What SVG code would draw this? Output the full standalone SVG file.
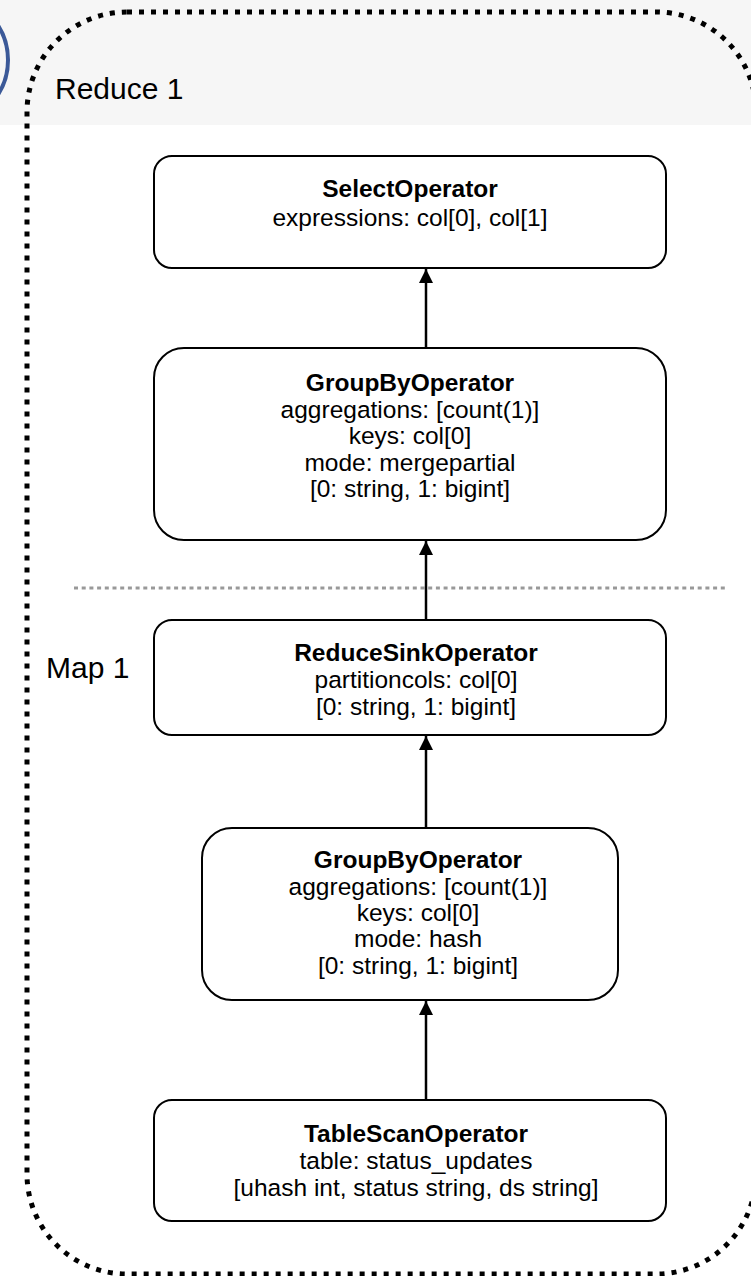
<svg xmlns="http://www.w3.org/2000/svg" width="751" height="1276" viewBox="0 0 751 1276">
<defs>
<style>
.node{fill:#fff;stroke:#000;stroke-width:2}
.t{font-family:"Liberation Sans",Arial,sans-serif;font-size:24.5px;text-anchor:middle;fill:#000}
.b{font-weight:bold}
.lbl{font-family:"Liberation Sans",Arial,sans-serif;font-size:30px;fill:#000}
.edge{stroke:#000;stroke-width:2.5;fill:none}
</style>
<marker id="ah" markerUnits="userSpaceOnUse" markerWidth="16" markerHeight="16" viewBox="0 0 16 16" refX="14" refY="8" orient="auto">
<path d="M0,1 L14,8 L0,15 Z" fill="#000"/>
</marker>
</defs>
<rect x="0" y="0" width="751" height="1276" fill="#fff"/>
<rect x="0" y="0" width="751" height="125" fill="#f6f6f6"/>
<circle cx="-56" cy="60" r="64" fill="none" stroke="#3b5998" stroke-width="4"/>
<rect x="27" y="12" width="729" height="1262" rx="100" ry="100" fill="none" stroke="#000" stroke-width="5" stroke-dasharray="5 7"/>
<line x1="74" y1="588" x2="727" y2="588" stroke="#999" stroke-width="3" stroke-dasharray="4 3.7"/>
<text class="lbl" x="55" y="99">Reduce 1</text>
<text class="lbl" x="46" y="678">Map 1</text>
<g id="edges">
<line class="edge" x1="426" y1="348" x2="426" y2="269" marker-end="url(#ah)"/>
<line class="edge" x1="426" y1="620" x2="426" y2="541" marker-end="url(#ah)"/>
<line class="edge" x1="426" y1="828" x2="426" y2="736" marker-end="url(#ah)"/>
<line class="edge" x1="426" y1="1100" x2="426" y2="1001" marker-end="url(#ah)"/>
</g>
<g id="select">
<rect class="node" x="154" y="156" width="512" height="112" rx="18"/>
<text class="t b" x="410" y="197">SelectOperator</text>
<text class="t" x="410" y="226">expressions: col[0], col[1]</text>
</g>
<g id="groupby1">
<rect class="node" x="154" y="348" width="512" height="192" rx="30"/>
<text class="t b" x="410" y="391">GroupByOperator</text>
<text class="t" x="410" y="418">aggregations: [count(1)]</text>
<text class="t" x="410" y="444">keys: col[0]</text>
<text class="t" x="410" y="471">mode: mergepartial</text>
<text class="t" x="410" y="497">[0: string, 1: bigint]</text>
</g>
<g id="reducesink">
<rect class="node" x="154" y="620" width="512" height="115" rx="18"/>
<text class="t b" x="416" y="661">ReduceSinkOperator</text>
<text class="t" x="416" y="688">partitioncols: col[0]</text>
<text class="t" x="416" y="715">[0: string, 1: bigint]</text>
</g>
<g id="groupby2">
<rect class="node" x="202" y="828" width="416" height="172" rx="30"/>
<text class="t b" x="418" y="868">GroupByOperator</text>
<text class="t" x="418" y="895">aggregations: [count(1)]</text>
<text class="t" x="418" y="921">keys: col[0]</text>
<text class="t" x="418" y="947">mode: hash</text>
<text class="t" x="418" y="974">[0: string, 1: bigint]</text>
</g>
<g id="tablescan">
<rect class="node" x="154" y="1100" width="512" height="121" rx="18"/>
<text class="t b" x="416" y="1142">TableScanOperator</text>
<text class="t" x="416" y="1169">table: status_updates</text>
<text class="t" x="416" y="1196">[uhash int, status string, ds string]</text>
</g>
</svg>
